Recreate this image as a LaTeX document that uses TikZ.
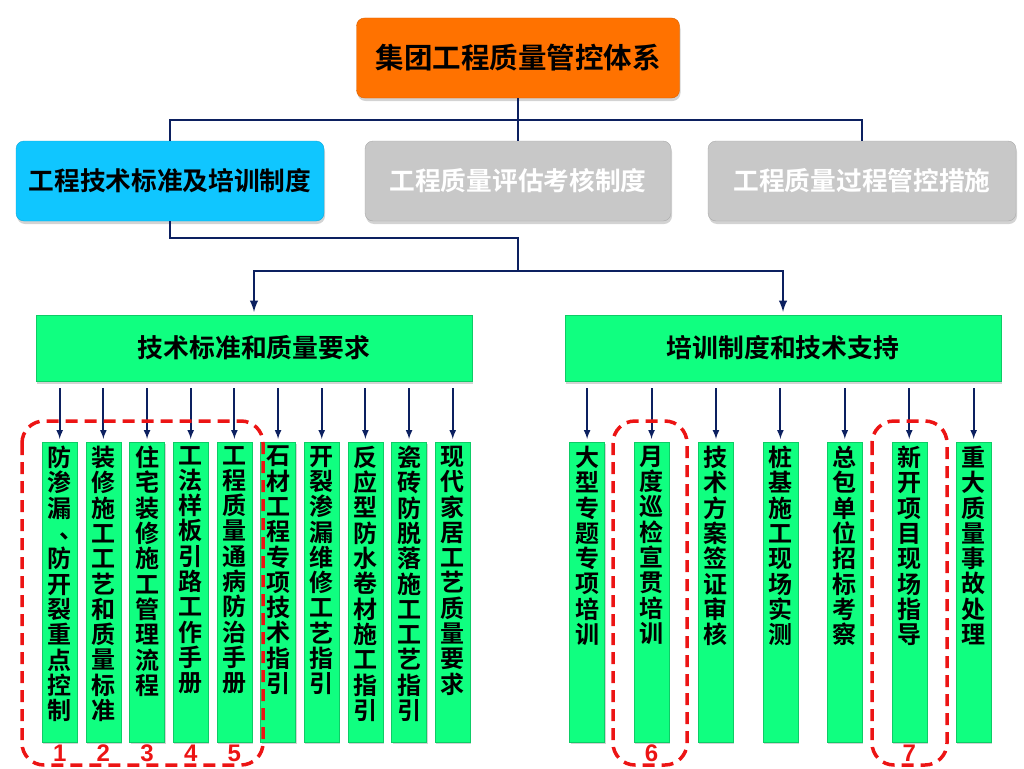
\documentclass[tikz,border=0pt]{standalone}
\usepackage{fontspec}
\setmainfont{Noto Sans CJK SC}[BoldFont={Noto Sans CJK SC Bold}]
\newfontfamily\numfont{Liberation Sans}
\usepackage{tikz}
\usetikzlibrary{positioning}
\usetikzlibrary{matrix}
\usetikzlibrary{shadows}
\usetikzlibrary{arrows}

\definecolor{navy}{RGB}{12,32,96}
\definecolor{topor}{RGB}{255,114,0}
\definecolor{blubox}{RGB}{16,198,255}
\definecolor{grybox}{RGB}{200,200,200}
\definecolor{grnbox}{RGB}{16,255,128}
\definecolor{dashred}{RGB}{236,20,20}

\def\chsplit#1{\ifx#1\relax\else#1\par\expandafter\chsplit\fi}
\newcommand{\vcomma}{\makebox[24pt][l]{\hspace{12pt}\raisebox{4pt}{、}}}
\newcommand{\vtxt}[1]{\parbox[t][300pt][t]{35pt}{\centering\bfseries\fontsize{24}{25.3}\selectfont\vspace*{4pt}\chsplit#1\relax}}

\begin{document}
\begin{tikzpicture}[x=1pt,y=-1pt,
box/.style={rounded corners=8pt, minimum height=80pt, font=\bfseries\fontsize{25.7}{28}\selectfont,
  drop shadow={shadow xshift=1pt,shadow yshift=-3pt,opacity=.35}},
head/.style={fill=grnbox, draw=grnbox!80!black, minimum width=436pt, minimum height=66pt,
  font=\bfseries\fontsize{25.8}{28}\selectfont, drop shadow={shadow xshift=1pt,shadow yshift=-3pt,opacity=.35}},
col/.style={fill=grnbox, draw=grnbox!80!black, inner sep=0pt, minimum width=35pt,
  drop shadow={shadow xshift=1pt,shadow yshift=-2pt,opacity=.35}},
link/.style={draw=navy, line width=2.8pt},
arr/.style={draw=navy, line width=2pt, -latex, shorten <=7pt, shorten >=3pt},
redbox/.style={draw=dashred, line width=3.5pt, dash pattern=on 12pt off 7pt, rounded corners=22pt},
num/.style={text=dashred, font=\numfont\bfseries\fontsize{24}{24}\selectfont, inner sep=0pt}]
\useasboundingbox (0,0) rectangle (1024,768);

\node[box, fill=topor, draw=topor!85!black, minimum width=323pt, font=\bfseries\fontsize{28.5}{30}\selectfont] (top) at (518,58) {集团工程质量管控体系};
\node[box, fill=blubox, draw=blubox!85!black, minimum width=308pt] (std) at (170,181) {工程技术标准及培训制度};
\node[box, fill=grybox, draw=grybox!85!black, text=white, minimum width=306pt] (eva) at (518,181) {工程质量评估考核制度};
\node[box, fill=grybox, draw=grybox!85!black, text=white, minimum width=308pt] (ctl) at (862,181) {工程质量过程管控措施};

\node[head] (req) at (254,348) {技术标准和质量要求};
\node[head] (sup) at (783,348) {培训制度和技术支持};

\coordinate (j1) at (518,120);
\coordinate (j2) at (518,238);
\coordinate (j3) at (518,271);
\draw[link] (top) -- (eva);
\draw[link] (std.north) |- (j1) -| (ctl.north);
\draw[link] (std.south) |- (j2) -- (j3);
\draw[link,-latex,shorten >=3pt] (j3) -| (req.north);
\draw[link,-latex,shorten >=3pt] (j3) -| (sup.north);

\matrix (lm) [matrix of nodes, nodes={col}, column sep={43.67pt,between origins},
inner sep=0pt, anchor=north west] at (41.8,441.7)
{
|(a1)|\vtxt{防渗漏\vcomma 防开裂重点控制} & |(a2)|\vtxt{装修施工工艺和质量标准} & |(a3)|\vtxt{住宅装修施工管理流程} & |(a4)|\vtxt{工法样板引路工作手册} & |(a5)|\vtxt{工程质量通病防治手册} & |(a6)|\vtxt{石材工程专项技术指引} & |(a7)|\vtxt{开裂渗漏维修工艺指引} & |(a8)|\vtxt{反应型防水卷材施工指引} & |(a9)|\vtxt{瓷砖防脱落施工工艺指引} & |(a10)|\vtxt{现代家居工艺质量要求} \\
};
\matrix (rm) [matrix of nodes, nodes={col}, column sep={64.43pt,between origins},
inner sep=0pt, anchor=north west] at (569.2,441.7)
{
|(b1)|\vtxt{大型专题专项培训} & |(b2)|\vtxt{月度巡检宣贯培训} & |(b3)|\vtxt{技术方案签证审核} & |(b4)|\vtxt{桩基施工现场实测} & |(b5)|\vtxt{总包单位招标考察} & |(b6)|\vtxt{新开项目现场指导} & |(b7)|\vtxt{重大质量事故处理} \\
};

\draw[arr] (req.south -| a1) -- (a1);
\draw[arr] (req.south -| a2) -- (a2);
\draw[arr] (req.south -| a3) -- (a3);
\draw[arr] (req.south -| a4) -- (a4);
\draw[arr] (req.south -| a5) -- (a5);
\draw[arr] (req.south -| a6) -- (a6);
\draw[arr] (req.south -| a7) -- (a7);
\draw[arr] (req.south -| a8) -- (a8);
\draw[arr] (req.south -| a9) -- (a9);
\draw[arr] (req.south -| a10) -- (a10);
\draw[arr] (sup.south -| b1) -- (b1);
\draw[arr] (sup.south -| b2) -- (b2);
\draw[arr] (sup.south -| b3) -- (b3);
\draw[arr] (sup.south -| b4) -- (b4);
\draw[arr] (sup.south -| b5) -- (b5);
\draw[arr] (sup.south -| b6) -- (b6);
\draw[arr] (sup.south -| b7) -- (b7);

\draw[redbox] (22,421) rectangle (263,765);
\draw[redbox] (613,421) rectangle (687,765);
\draw[redbox] (872,421) rectangle (947,765);
\node[num, below=2pt of a1] (n1) {1};
\node[num, below=2pt of a2] (n2) {2};
\node[num, below=2pt of a3] (n3) {3};
\node[num, below=2pt of a4] (n4) {4};
\node[num, below=2pt of a5] (n5) {5};
\node[num, below=2pt of b2] (n6) {6};
\node[num, below=2pt of b6] (n7) {7};
\end{tikzpicture}
\end{document}
